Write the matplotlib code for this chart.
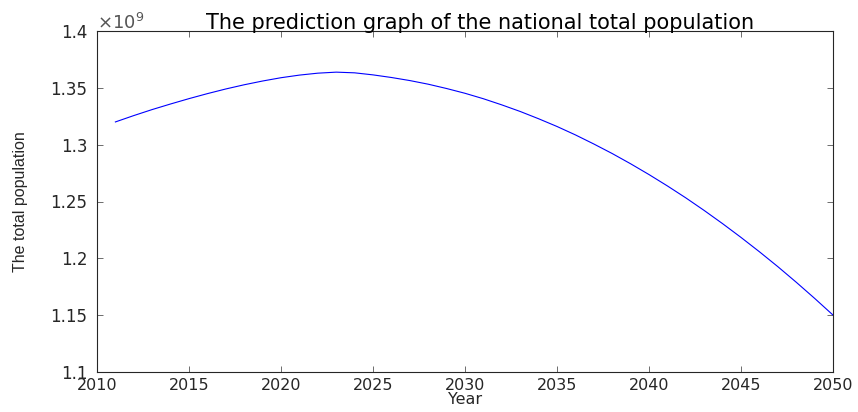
import matplotlib
matplotlib.use("Agg")
import matplotlib.pyplot as plt
from matplotlib.ticker import FuncFormatter
from matplotlib import font_manager

years = list(range(2011, 2051))
population_e9 = [
    1.3200, 1.3256, 1.3309, 1.3358, 1.3405, 1.3449, 1.3490, 1.3527, 1.3560, 1.3589,
    1.3612, 1.3629, 1.3638, 1.3632, 1.3614, 1.3591, 1.3564, 1.3532, 1.3494, 1.3452,
    1.3404, 1.3350, 1.3292, 1.3228, 1.3160, 1.3086, 1.3006, 1.2922, 1.2832, 1.2737,
    1.2637, 1.2532, 1.2421, 1.2305, 1.2184, 1.2058, 1.1927, 1.1790, 1.1648, 1.1501,
]
x_ticks = [2010, 2015, 2020, 2025, 2030, 2035, 2040, 2045, 2050]
y_ticks = [1.1, 1.15, 1.2, 1.25, 1.3, 1.35, 1.4]

title = "The prediction graph of the national total population"
xlabel = "Year"
ylabel = "The total population"

names = {f.name for f in font_manager.fontManager.ttflist}
wide_font = ["DejaVu Sans"]
has_narrow = "Liberation Sans Narrow" in names
narrow_font = ["Liberation Sans Narrow", "DejaVu Sans"] if has_narrow else ["Liberation Sans", "DejaVu Sans"]
plt.rcParams["font.family"] = wide_font

txt = "#262626"
fig = plt.figure(figsize=(8.58, 4.12), dpi=100)
ax = fig.add_axes([97/858, 40/412, (833-97)/858, (372-31)/412])
ax.plot(years, population_e9, color=(0, 0, 1), linewidth=0.8)
ax.set_xlim(2010, 2050)
ax.set_ylim(1.1, 1.4)
ax.set_xticks(x_ticks)
ax.set_yticks(y_ticks)
ax.yaxis.set_major_formatter(FuncFormatter(lambda v, p: f"{v:g}"))
ax.tick_params(direction="in", length=4, width=0.6, colors="#555555",
               labelcolor=txt, labelsize=12, top=True, right=True)
ax.tick_params(axis="x", pad=4, labelsize=11.5)
ax.tick_params(axis="y", pad=7)
for s in ax.spines.values():
    s.set_color(txt)
    s.set_linewidth(0.8)
ax.text(0.52, 0.995, title, transform=ax.transAxes, ha="center", va="bottom",
        fontsize=15, color="black")
ax.set_xlabel(xlabel, fontsize=11.5, color=txt, labelpad=-0.5)
ax.set_ylabel(ylabel, fontsize=12.5 if has_narrow else 11.5, color=txt,
              family=narrow_font, labelpad=16)
ax.text(0.0, 0.993, r"$\times10^{9}$", transform=ax.transAxes, ha="left", va="bottom",
        fontsize=13, color="#555555")
fig.savefig("out.png", dpi=100)
